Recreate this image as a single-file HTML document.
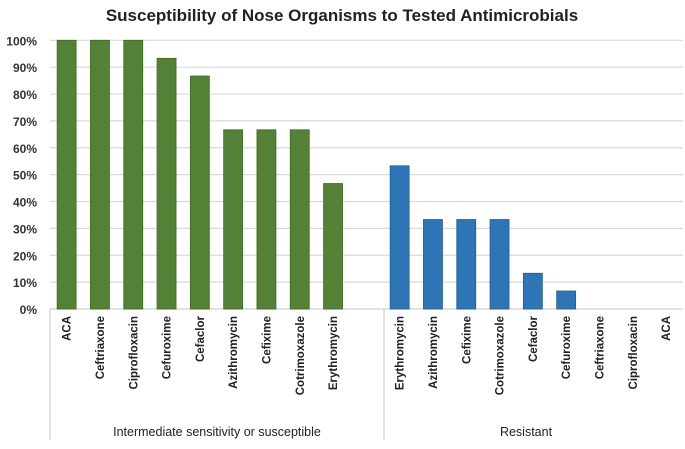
<!DOCTYPE html>
<html><head><meta charset="utf-8"><style>
body{margin:0;background:#fff;}
svg text{font-family:"Liberation Sans",sans-serif;}
</style></head><body>
<svg id="chart" width="685" height="444" viewBox="0 0 685 444" xmlns="http://www.w3.org/2000/svg">
<text x="342" y="21" text-anchor="middle" font-size="17" font-weight="bold" fill="#222">Susceptibility of Nose Organisms to Tested Antimicrobials</text>
<g id="grid"></g><g id="bars"></g><g id="labels"></g>
</svg>
<script>
const greenCats=["ACA","Ceftriaxone","Ciprofloxacin","Cefuroxime","Cefaclor","Azithromycin","Cefixime","Cotrimoxazole","Erythromycin"];
const greenVals=[100,100,100,93.3,86.7,66.7,66.7,66.7,46.7];
const blueCats=["Erythromycin","Azithromycin","Cefixime","Cotrimoxazole","Cefaclor","Cefuroxime","Ceftriaxone","Ciprofloxacin","ACA"];
const blueVals=[53.3,33.3,33.3,33.3,13.3,6.7,0,0,0];
const groups=["Intermediate sensitivity or susceptible","Resistant"];
const yTicks=[0,10,20,30,40,50,60,70,80,90,100];
const NS="http://www.w3.org/2000/svg";
const L=50,R=683,Y0=309,Y1=40.3,slot=33.3,bw=19;
const y=v=>Y0-(Y0-Y1)*v/100;
const xc=i=>L+slot*(i+0.5);
function mk(t,a,p){const e=document.createElementNS(NS,t);for(const k in a)e.setAttribute(k,a[k]);p.appendChild(e);return e;}
const G=document.getElementById('grid'),B=document.getElementById('bars'),T=document.getElementById('labels');
yTicks.forEach(v=>{
 if(v>0){const l=mk('line',{x1:L,x2:R,y1:y(v),y2:y(v),stroke:'#d9d9d9','stroke-width':1.2},G);
 
 }
 const t=mk('text',{x:37,y:y(v)+5,'text-anchor':'end','font-size':12,'font-weight':'bold',fill:'#333'},T);t.textContent=v+'%';
 
 
});
function series(cats,vals,off,fill,stroke){
 cats.forEach((c,i)=>{
  const cx=xc(i+off);
  const h=Y0-y(vals[i]);
  if(h>0){const r=mk('rect',{x:cx-bw/2,y:y(vals[i]),width:bw,height:h,fill:fill,stroke:stroke,'stroke-width':0.8},B);
  
  }
  const t=mk('text',{transform:`translate(${cx+4},316) rotate(-90)`,'text-anchor':'end','font-size':11.5,'font-weight':'bold',fill:'#222'},T);
  t.textContent=c;
  
  
 });
}
series(greenCats,greenVals,0,'#538135','#3f6b26');
series(blueCats,blueVals,10,'#2e75b6','#235d93');
const sep=384;
[[L,Y0,R,Y0],[L,Y0,L,440],[sep,Y0,sep,440]].forEach(a=>{const l=mk('line',{x1:a[0],y1:a[1],x2:a[2],y2:a[3],stroke:'#d0d0d0','stroke-width':1.2},G);
 
 });
[[groups[0],(L+sep)/2],[groups[1],526]].forEach(g=>{const t=mk('text',{x:g[1],y:436,'text-anchor':'middle','font-size':12.5,fill:'#222'},T);t.textContent=g[0];
 
 });
</script>
</body></html>
